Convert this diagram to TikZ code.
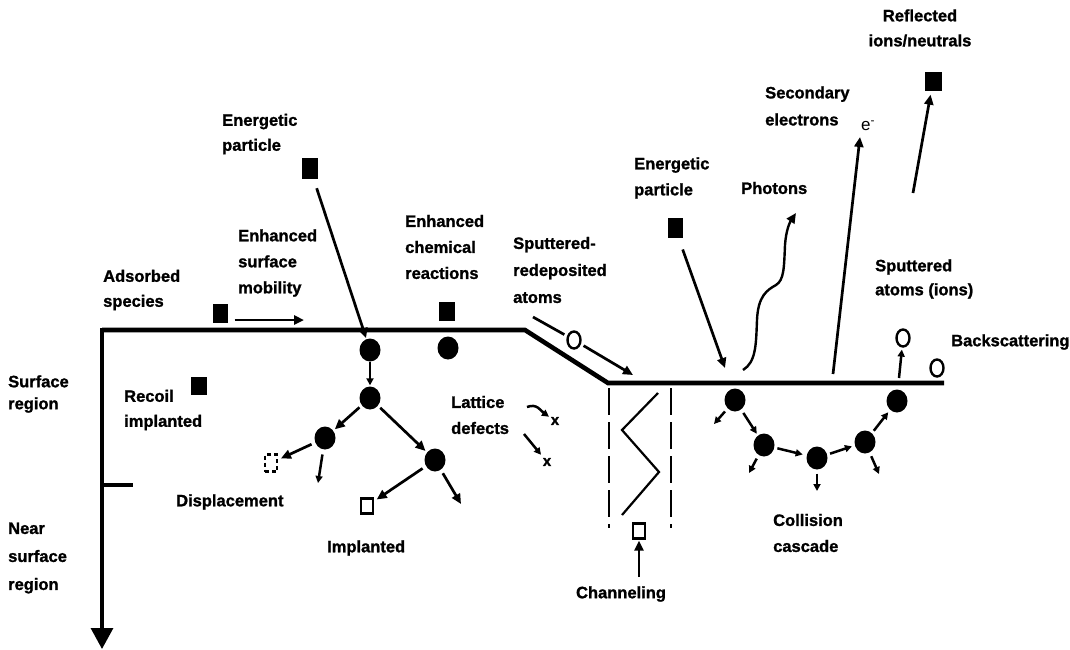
\documentclass[tikz,border=0pt]{standalone}
\usepackage{fontspec}
\setmainfont{Liberation Sans}[BoldFeatures={FakeBold=1.3}]
\usetikzlibrary{arrows.meta,shapes.geometric,calc}
\begin{document}
\begin{tikzpicture}[x=1pt,y=-1pt,
 lbl/.style={font=\bfseries\fontsize{16.5}{25}\selectfont, align=left, inner sep=0pt},
 atom/.style={ellipse, fill=black, minimum width=21pt, minimum height=23pt, inner sep=0pt},
 blk/.style={rectangle, fill=black, minimum width=16pt, minimum height=19pt, inner sep=0pt},
 hsq/.style={rectangle, draw, line width=2.4pt, minimum width=12pt, minimum height=15pt, inner sep=0pt},
 dsq/.style={hsq, dash pattern=on 4pt off 3pt},
 hcir/.style={ellipse, draw, line width=2.4pt, minimum width=13pt, minimum height=17pt, inner sep=0pt},
 arr/.style={line width=2.7pt, -{Triangle[length=10pt,width=9pt]}},
 sarr/.style={line width=2.5pt, -{Triangle[length=7pt,width=7pt]}},
 surf/.style={line width=4.6pt, line join=miter},
 xmark/.style={font=\bfseries\fontsize{15}{15}\selectfont, inner sep=0pt},
 chan/.style={line width=2.2pt, dash pattern=on 27pt off 7pt},
]
\path[use as bounding box, fill=white] (0,0) rectangle (1070,649);

% surface and depth axis
\coordinate (sA) at (102,330);
\coordinate (sB) at (525,330);
\coordinate (sC) at (608,383);
\coordinate (sD) at (944,383);
\coordinate (axTop) at (102,328);
\coordinate (axEnd) at (102,649);
\coordinate (tickA) at (102,485);
\coordinate (tickB) at (133,485);
\draw[surf] (sA) -- (sB) -- (sC) -- (sD);
\draw[line width=3.2pt, -{Triangle[length=21pt,width=22pt]}] (axTop) -- (axEnd);
\draw[line width=3.2pt] (tickA) -- (tickB);

% region labels
\node[lbl, font=\bfseries\fontsize{16.5}{22}\selectfont, anchor=west] (lSurf) at (8,394) {Surface\\region};
\node[lbl, font=\bfseries\fontsize{16.5}{28}\selectfont, anchor=west] (lNear) at (8,558) {Near\\surface\\region};

% left part labels
\node[lbl, anchor=west] (lAds) at (103,290) {Adsorbed\\species};
\node[lbl, font=\bfseries\fontsize{16.5}{26}\selectfont, anchor=west] (lMob) at (238,263) {Enhanced\\surface\\mobility};
\node[lbl, anchor=west] (lEp1) at (222,134) {Energetic\\particle};
\node[lbl, font=\bfseries\fontsize{16.5}{26}\selectfont, anchor=west] (lChem) at (405,247) {Enhanced\\chemical\\reactions};
\node[lbl, anchor=west] (lRec) at (124,410) {Recoil\\implanted};
\node[lbl, anchor=west] (lDisp) at (176,502) {Displacement};
\node[lbl, anchor=west] (lImp) at (327,548) {Implanted};
\node[lbl, font=\bfseries\fontsize{16.5}{26}\selectfont, anchor=west] (lLat) at (451,415) {Lattice\\defects};
\node[lbl, font=\bfseries\fontsize{16.5}{27}\selectfont, anchor=west] (lSpr) at (513,270) {Sputtered-\\redeposited\\atoms};

% left particles
\node[blk, minimum width=15pt] (ads) at (220,313) {};
\node[blk, minimum height=21pt] (ep1) at (310,168) {};
\node[blk] (chem) at (447,311) {};
\node[blk, minimum height=18pt] (rec) at (199,386) {};
\node[atom] (c1) at (370,350) {};
\node[atom] (c2) at (448,348) {};
\node[atom] (c3) at (370,398) {};
\node[atom] (c4) at (325,438) {};
\node[atom] (c5) at (435,460) {};
\node[dsq, minimum height=17pt] (disp) at (271,463) {};
\node[hsq] (imp) at (367,506) {};

\coordinate (mobEnd) at (304,320);
\coordinate (c4End) at (318,483);
\coordinate (c5End) at (461,504);
\draw[arr] ([xshift=7pt,yshift=-7pt]ads.east) -- (mobEnd);
\draw[arr, shorten <=10pt, shorten >=1pt] (ep1) -- (c1);
\draw[sarr, shorten >=1pt] (c1) -- (c3);
\draw[arr, shorten <=3pt, shorten >=2pt] (c3) -- (c4);
\draw[arr, shorten <=3pt, shorten >=2pt] (c3) -- (c5);
\draw[arr, shorten <=4pt, shorten >=3pt] (c4) -- (disp);
\draw[sarr, shorten <=5pt] (c4) -- (c4End);
\draw[arr, shorten <=4pt, shorten >=3pt] (c5) -- (imp);
\draw[arr, shorten <=4pt] (c5) -- (c5End);

% lattice defects
\node[xmark] (x1) at (555,421) {x};
\node[xmark] (x2) at (547,462) {x};
\coordinate (lt1) at (527,407);
\coordinate (lt2) at (524,434);
\draw[sarr, shorten >=2pt] (lt1) .. controls (537,403) and (541,411) .. (x1);
\draw[sarr, shorten >=4pt] (lt2) -- (x2);

% sputtered-redeposited
\node[hcir] (sr) at (574,340) {};
\coordinate (srStart) at (533,317);
\coordinate (srEnd) at (633,375);
\draw[line width=2.7pt, shorten >=3pt] (srStart) -- (sr);
\draw[arr, shorten <=3pt] (sr) -- (srEnd);

% channeling
\coordinate (chLt) at (609,388);
\coordinate (chLb) at (609,528);
\coordinate (chRt) at (671,388);
\coordinate (chRb) at (671,528);
\draw[chan] (chLt) -- (chLb);
\draw[chan] (chRt) -- (chRb);
\draw[line width=2.2pt] (658,393) -- (622,430) -- (659,472) -- (622,515);
\node[hsq] (ch) at (639,531) {};
\coordinate (chStart) at (639,577);
\draw[arr, shorten >=1pt] (chStart) -- (ch);
\node[lbl] (lChan) at (621,594) {Channeling};

% right part labels
\node[lbl, font=\bfseries\fontsize{16.5}{26}\selectfont, anchor=west] (lEp2) at (634,178) {Energetic\\particle};
\node[lbl, anchor=west] (lPho) at (741,188) {Photons};
\node[lbl, font=\bfseries\fontsize{16.5}{27}\selectfont, anchor=west] (lSec) at (765,106) {Secondary\\electrons};
\node[inner sep=0pt, font=\fontsize{17}{17}\selectfont] (el) at (868,126) {e\textsuperscript{-}};
\node[lbl, align=center] (lRef) at (920,28) {Reflected\\ions/neutrals};
\node[lbl, font=\bfseries\fontsize{16.5}{24}\selectfont, anchor=west] (lSpu) at (875,279) {Sputtered\\atoms (ions)};
\node[lbl, anchor=west] (lBack) at (951,342) {Backscattering};
\node[lbl, font=\bfseries\fontsize{16.5}{26}\selectfont, anchor=west] (lCol) at (773,533) {Collision\\cascade};

% right particles
\node[blk, minimum width=15pt, minimum height=20pt] (ep2) at (675,228) {};
\node[blk, minimum width=17pt] (refl) at (933,81) {};
\node[hcir] (sp) at (903,338) {};
\node[hcir] (bs) at (937,368) {};
\node[atom] (A) at (735,400) {};
\node[atom] (B) at (764,445) {};
\node[atom] (C) at (817,458) {};
\node[atom] (D) at (865,442) {};
\node[atom] (E) at (897,401) {};

\coordinate (epHit) at (725,368);
\draw[arr, shorten <=12pt] (ep2) -- (epHit);

\coordinate (phStart) at (743,370);
\coordinate (phEnd) at (796,213);
\draw[arr, line width=2.4pt] (phStart) .. controls (756,362) and (756,345) .. (757,320)
  .. controls (758,296) and (767,290) .. (776,285)
  .. controls (784,280) and (784,268) .. (785,245)
  .. controls (786,230) and (790,222) .. (phEnd);

\coordinate (secStart) at (833,374);
\coordinate (secEnd) at (860,137);
\draw[arr] (secStart) -- (secEnd);

\coordinate (reflStart) at (913,193);
\draw[arr, shorten >=4pt] (reflStart) -- (refl);

\coordinate (spStart) at (899,378);
\draw[sarr, shorten >=2pt] (spStart) -- (sp);

\coordinate (aEnd) at (714,424);
\coordinate (bEnd) at (749,473);
\coordinate (cEnd) at (817,491);
\coordinate (dEnd) at (879,474);
\draw[sarr, shorten <=4pt] (A) -- (aEnd);
\draw[sarr, shorten <=4pt, shorten >=2pt] (A) -- (B);
\draw[sarr, shorten <=4pt] (B) -- (bEnd);
\draw[sarr, shorten <=3pt, shorten >=4pt] (B) -- (C);
\draw[sarr, shorten <=4pt] (C) -- (cEnd);
\draw[sarr, shorten <=3pt, shorten >=3pt] (C) -- (D);
\draw[sarr, shorten <=4pt] (D) -- (dEnd);
\draw[sarr, shorten <=3pt, shorten >=3pt] (D) -- (E);
\end{tikzpicture}
\end{document}
